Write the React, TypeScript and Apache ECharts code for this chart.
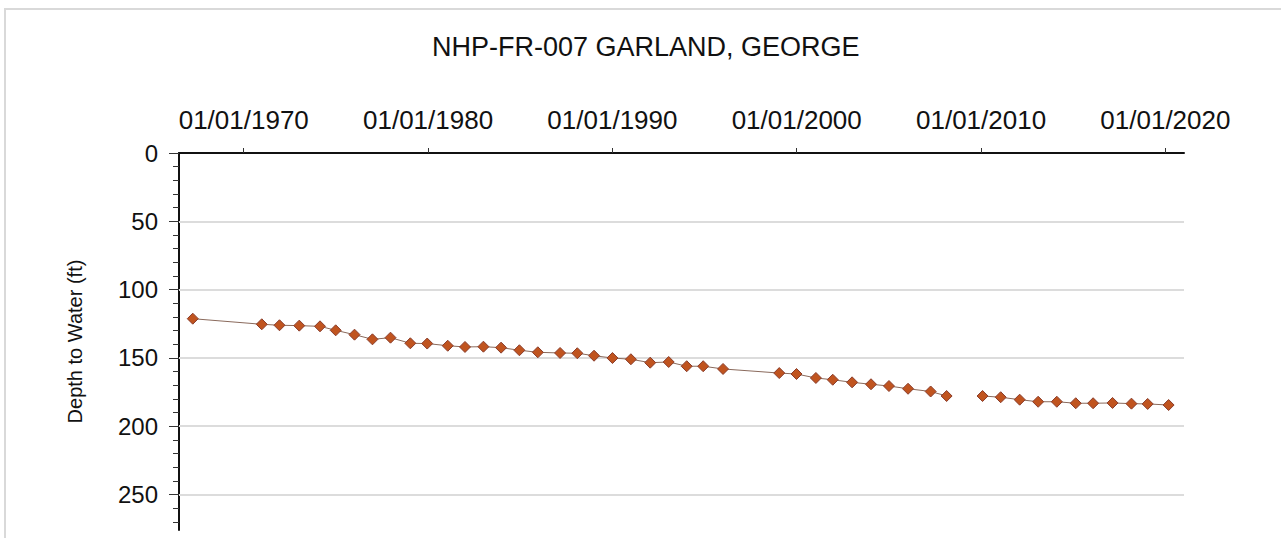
import React, { useEffect, useRef } from "react";
import * as echarts from "echarts";

const titleText = "NHP-FR-007 GARLAND, GEORGE";
const yAxisTitle = "Depth to Water (ft)";

const dates = [
  "1967-03-28", "1970-12-24", "1971-12-10", "1973-01-05", "1974-02-20", "1974-12-28",
  "1976-01-05", "1976-12-25", "1977-12-18", "1979-01-15", "1979-12-15", "1981-01-25",
  "1982-01-02", "1983-01-02", "1983-12-18", "1984-12-15", "1985-12-15", "1987-03-01",
  "1988-02-05", "1989-01-02", "1990-01-02", "1991-01-02", "1992-01-20", "1993-01-20",
  "1994-01-12", "1994-12-05", "1996-01-02", "1999-01-20", "1999-12-28", "2001-01-15",
  "2001-12-15", "2003-01-02", "2004-01-12", "2005-01-02", "2006-01-15", "2007-04-08",
  "2008-02-18", "2009-01-01", "2010-01-30", "2011-01-25", "2012-02-05", "2013-02-05",
  "2014-02-10", "2015-02-20", "2016-01-30", "2017-02-18", "2018-02-28", "2019-01-15",
  "2020-03-05",
];

const depths: (number | null)[] = [
  121.3, 125.4, 126.1, 126.4, 126.9, 129.8, 133.0, 136.4, 135.2, 139.3,
  139.5, 141.1, 142.0, 141.8, 142.5, 144.4, 145.9, 146.4, 146.6, 148.4,
  150.1, 151.0, 153.5, 153.0, 156.1, 156.1, 158.1, 161.1, 161.8, 164.7,
  166.0, 167.9, 169.3, 170.6, 172.6, 174.6, 177.9, null, 177.9, 178.8,
  180.6, 182.1, 182.1, 183.2, 183.2, 183.0, 183.5, 183.7, 184.5,
];

const xTickYears = [1970, 1980, 1990, 2000, 2010, 2020];
const yMajorTicks = [0, 50, 100, 150, 200, 250];
const yMinorTicks = [10, 20, 30, 40, 60, 70, 80, 90, 110, 120, 130, 140, 160, 170, 180, 190, 210, 220, 230, 240, 260, 270];
const gridValues = [50, 100, 150, 200, 250];

const parseDate = (s: string) => {
  const [y, m, d] = s.split("-").map(Number);
  return Date.UTC(y, m - 1, d);
};

const pad = (n: number) => (n < 10 ? "0" + n : "" + n);
const fmtDate = (v: number) => {
  const d = new Date(v);
  return `${pad(d.getUTCMonth() + 1)}/${pad(d.getUTCDate())}/${d.getUTCFullYear()}`;
};

const FONT = "'Liberation Sans', Arial, sans-serif";

export default function App() {
  const ref = useRef<HTMLDivElement>(null);

  useEffect(() => {
    document.body.style.margin = "0";
    const chart = echarts.init(ref.current!, null, { renderer: "svg" });
    const data = dates.map((d, i) => [parseDate(d), depths[i] === null ? "-" : depths[i]]);
    const xTicks = xTickYears.map((y) => Date.UTC(y, 0, 1));

    chart.setOption({
      animation: false,
      backgroundColor: "#ffffff",
      textStyle: { fontFamily: FONT },
      title: {
        text: titleText,
        left: 427,
        top: 28,
        textStyle: { fontFamily: FONT, fontSize: 27, fontWeight: "normal", color: "#111" },
      },
      graphic: [
        {
          type: "rect",
          z: -10,
          shape: { x: 5, y: 9, width: 1400, height: 700 },
          style: { fill: "none", stroke: "#d9d9d9", lineWidth: 2 },
        },
      ],
      grid: { left: 179, right: 97, top: 153, bottom: 8, containLabel: false },
      xAxis: {
        type: "value",
        position: "top",
        min: Date.UTC(1966, 5, 28),
        max: Date.UTC(2021, 0, 4),
        axisLine: { show: true, onZero: false, lineStyle: { color: "#111", width: 2 } },
        axisTick: { show: true, customValues: xTicks, length: 5, lineStyle: { color: "#333", width: 1 } },
        axisLabel: {
          show: true,
          customValues: xTicks,
          formatter: (v: number) => fmtDate(v),
          fontSize: 26,
          color: "#111",
          margin: 20,
          fontFamily: FONT,
        },
        splitLine: { show: false },
      },
      yAxis: [
        {
          type: "value",
          inverse: true,
          min: 0,
          max: 276,
          position: "left",
          name: yAxisTitle,
          nameLocation: "middle",
          nameGap: 94,
          nameTextStyle: { fontSize: 20, color: "#111", fontFamily: FONT },
          axisLine: { show: true, onZero: false, lineStyle: { color: "#111", width: 2 } },
          axisTick: { show: true, customValues: yMajorTicks, length: 10, lineStyle: { color: "#333", width: 1 } },
          axisLabel: {
            show: true,
            customValues: yMajorTicks,
            fontSize: 24,
            color: "#111",
            margin: 21,
            fontFamily: FONT,
          },
          splitLine: { show: false },
        },
        {
          type: "value",
          inverse: true,
          min: 0,
          max: 276,
          position: "left",
          offset: 0,
          axisLine: { show: false, onZero: false },
          axisTick: { show: true, customValues: yMinorTicks, length: 6, lineStyle: { color: "#333", width: 1 } },
          axisLabel: { show: false },
          splitLine: { show: false },
        },
      ],
      series: [
        {
          type: "line",
          xAxisIndex: 0,
          yAxisIndex: 0,
          data,
          connectNulls: false,
          symbol: "diamond",
          symbolSize: 11,
          itemStyle: { color: "#c0541f", borderColor: "#8a3d2c", borderWidth: 1 },
          lineStyle: { color: "#8a6a5c", width: 1 },
          markLine: {
            silent: true,
            symbol: "none",
            label: { show: false },
            lineStyle: { color: "#dcdcdc", width: 2, type: "solid" },
            data: gridValues.map((v) => ({ yAxis: v })),
            z: 1,
          },
          z: 3,
        },
      ],
    });

    return () => chart.dispose();
  }, []);

  return (
    <div
      ref={ref}
      style={{ position: "absolute", left: 0, top: 0, width: 1281, height: 538 }}
    />
  );
}
